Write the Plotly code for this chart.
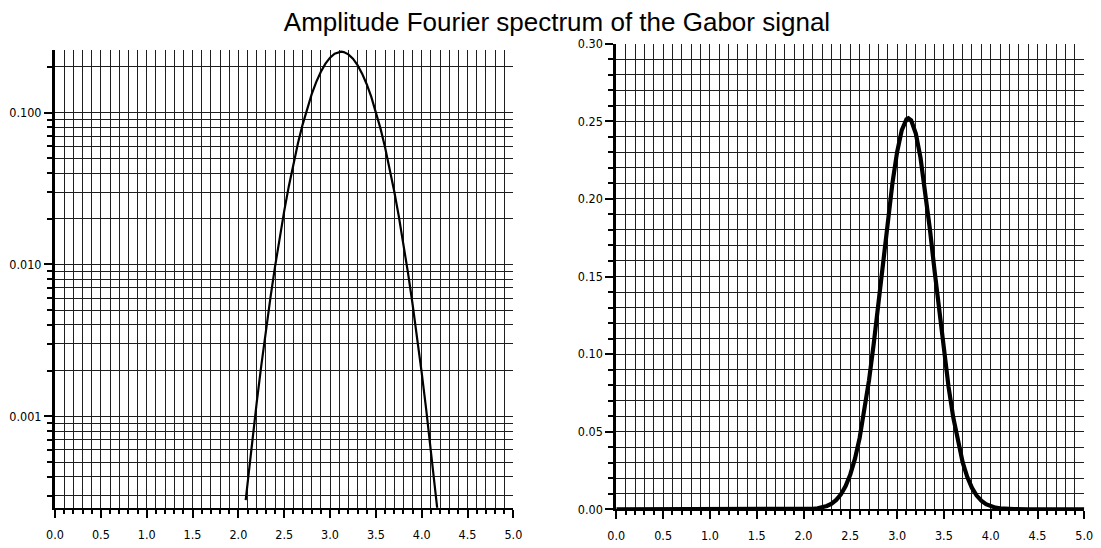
import plotly.graph_objects as go

# ---- data ----
left_freq = [2.08, 2.10, 2.15, 2.20, 2.25, 2.30, 2.35, 2.40, 2.45, 2.50, 2.55, 2.60,
             2.65, 2.70, 2.75, 2.80, 2.85, 2.90, 2.95, 3.00, 3.05, 3.10, 3.12, 3.15,
             3.20, 3.25, 3.30, 3.35, 3.40, 3.45, 3.50, 3.55, 3.60, 3.65, 3.70, 3.75,
             3.80, 3.85, 3.90, 3.95, 4.00, 4.05, 4.10, 4.15, 4.17]
left_amp = [0.000280, 0.000363, 0.000678, 0.001229, 0.002159, 0.003671, 0.006051,
            0.009672, 0.014974, 0.02245, 0.03266, 0.04602, 0.06283, 0.08311, 0.10652,
            0.13235, 0.15931, 0.18588, 0.21012, 0.23018, 0.24436, 0.25137, 0.252,
            0.25058, 0.24205, 0.22660, 0.20553, 0.18068, 0.15390, 0.12703, 0.10161,
            0.07877, 0.05918, 0.04307, 0.03037, 0.02076, 0.013754, 0.008827, 0.005491,
            0.003309, 0.001933, 0.001094, 0.000600, 0.000319, 0.000245]

right_freq = [0.0, 0.5, 1.0, 1.5, 1.8, 2.0, 2.05, 2.10, 2.15, 2.20, 2.25, 2.30, 2.35,
              2.40, 2.45, 2.50, 2.55, 2.60, 2.65, 2.70, 2.75, 2.80, 2.85, 2.90, 2.95,
              3.00, 3.05, 3.10, 3.12, 3.15, 3.20, 3.25, 3.30, 3.35, 3.40, 3.45, 3.50,
              3.55, 3.60, 3.65, 3.70, 3.75, 3.80, 3.85, 3.90, 3.95, 4.00, 4.05, 4.10,
              4.15, 4.20, 4.25, 4.4, 4.7, 5.0]
right_amp = [0.0, 0.0, 0.0, 0.0, 0.00001, 0.0000945, 0.000188, 0.000363, 0.000678,
             0.001229, 0.002159, 0.003671, 0.006051, 0.009672, 0.014974, 0.02245,
             0.03266, 0.04602, 0.06283, 0.08311, 0.10652, 0.13235, 0.15931, 0.18588,
             0.21012, 0.23018, 0.24436, 0.25137, 0.252, 0.25058, 0.24205, 0.22660,
             0.20553, 0.18068, 0.15390, 0.12703, 0.10161, 0.07877, 0.05918, 0.04307,
             0.03037, 0.02076, 0.013754, 0.008827, 0.005491, 0.003309, 0.001933,
             0.001094, 0.000600, 0.000319, 0.000164, 0.000082, 0.00001, 0.0, 0.0]

x_tickvals = [0.0, 0.5, 1.0, 1.5, 2.0, 2.5, 3.0, 3.5, 4.0, 4.5, 5.0]
x_ticktext = ["0.0", "0.5", "1.0", "1.5", "2.0", "2.5", "3.0", "3.5", "4.0", "4.5", "5.0"]
log_tickvals = [0.001, 0.01, 0.1]
log_ticktext = ["0.001", "0.010", "0.100"]
lin_tickvals = [0.00, 0.05, 0.10, 0.15, 0.20, 0.25, 0.30]
lin_ticktext = ["0.00", "0.05", "0.10", "0.15", "0.20", "0.25", "0.30"]

title_text = "Amplitude Fourier spectrum of the Gabor signal"

# minor log positions (2..9 x decade)
log_minor = []
for k in range(-4, 0):
    for d in range(2, 10):
        log_minor.append(d * 10.0 ** k)

W, H = 1101, 548
OFF = 8  # page body margin in the browser
def fx(px):
    return (px - OFF) / W
def fy(py):
    return 1 - (py - OFF) / H

tick_font = dict(family="DejaVu Sans Condensed, Liberation Sans Narrow, Liberation Sans, sans-serif",
                 size=12.5, color="black")
grid_col = "rgb(30,30,30)"

fig = go.Figure()
fig.add_trace(go.Scatter(x=left_freq, y=left_amp, mode="lines",
                         line=dict(color="black", width=2.2),
                         xaxis="x", yaxis="y", showlegend=False))
fig.add_trace(go.Scatter(x=right_freq, y=right_amp, mode="lines",
                         line=dict(color="black", width=4.2),
                         xaxis="x2", yaxis="y2", showlegend=False))

def xaxis_cfg(domain, anchor):
    return dict(domain=domain, anchor=anchor, range=[0, 5], automargin=False,
                tickmode="array", tickvals=x_tickvals, ticktext=x_ticktext,
                ticks="outside", ticklen=8, tickwidth=2, tickcolor="black",
                ticklabelstandoff=6,
                showgrid=True, gridcolor=grid_col, gridwidth=1,
                minor=dict(dtick=0.1, tick0=0, ticks="outside", ticklen=4,
                           tickwidth=2, tickcolor="black",
                           showgrid=True, gridcolor=grid_col, gridwidth=1),
                showline=True, linecolor="black", linewidth=2,
                zeroline=False, tickfont=tick_font, fixedrange=True)

fig.update_layout(
    width=W, height=H,
    margin=dict(l=0, r=0, t=0, b=0, autoexpand=False),
    paper_bgcolor="white", plot_bgcolor="white",
    title=dict(text=title_text, x=fx(557), xanchor="center",
               y=fy(22), yanchor="middle", yref="container", automargin=False,
               font=dict(family="Liberation Sans, Arial, sans-serif", size=26, color="black")),
    xaxis=xaxis_cfg([fx(55), fx(513.4)], "y"),
    xaxis2=xaxis_cfg([fx(616.3), fx(1084.3)], "y2"),
    yaxis=dict(domain=[fy(507.7), fy(50)], anchor="x", type="log",
               range=[-3.602, -0.5875], automargin=False,
               tickmode="array", tickvals=log_tickvals, ticktext=log_ticktext,
               ticks="outside", ticklen=8, tickwidth=2, tickcolor="black",
               showgrid=True, gridcolor=grid_col, gridwidth=1,
               minor=dict(tickmode="array", tickvals=log_minor, ticks="outside",
                          ticklen=5, tickwidth=2, tickcolor="black",
                          showgrid=True, gridcolor=grid_col, gridwidth=1),
               showline=True, linecolor="black", linewidth=3,
               zeroline=False, tickfont=tick_font, fixedrange=True),
    yaxis2=dict(domain=[fy(509.3), fy(43.7)], anchor="x2",
                range=[0, 0.30], automargin=False,
                tickmode="array", tickvals=lin_tickvals, ticktext=lin_ticktext,
                ticks="outside", ticklen=8, tickwidth=2, tickcolor="black",
                showgrid=True, gridcolor=grid_col, gridwidth=1,
                minor=dict(dtick=0.01, tick0=0, ticks="outside", ticklen=5,
                           tickwidth=2, tickcolor="black",
                           showgrid=True, gridcolor=grid_col, gridwidth=1),
                showline=True, linecolor="black", linewidth=3,
                zeroline=False, tickfont=tick_font, fixedrange=True),
)

fig.write_html("out.html")
